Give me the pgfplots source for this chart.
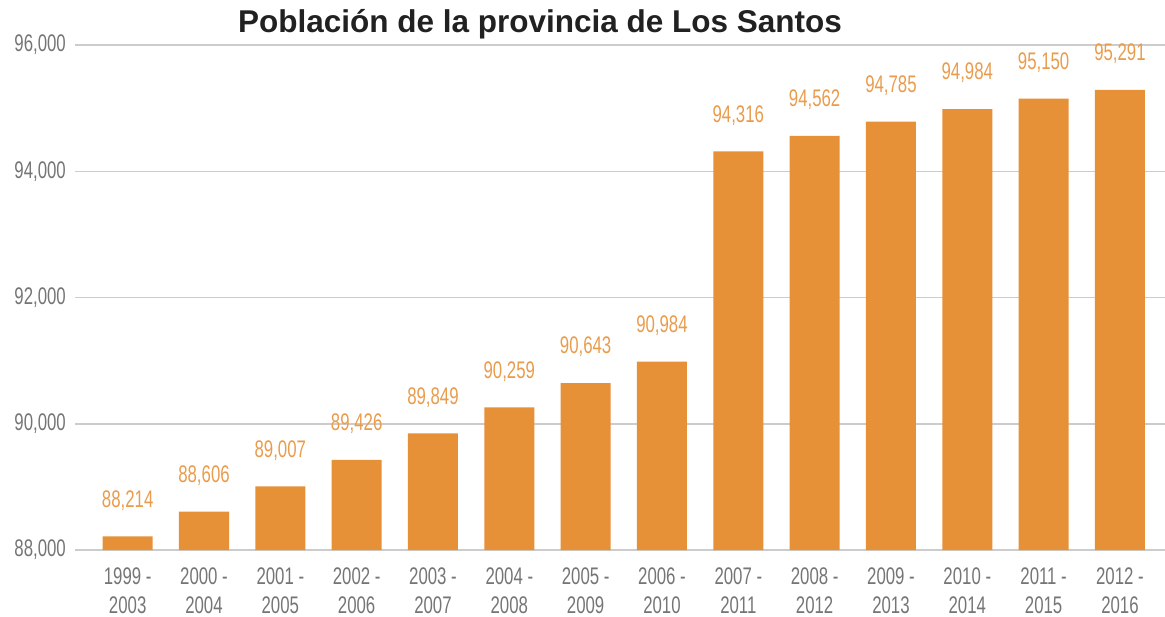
\documentclass[border=0pt]{standalone}
\usepackage{pgfplots}
\pgfplotsset{compat=1.18}
\usepackage{fontspec}
\setmainfont{Liberation Sans}
\newfontfamily\cond[FakeStretch=0.7]{Liberation Sans}
\definecolor{barc}{HTML}{E69138}
\definecolor{tickc}{HTML}{757575}
\definecolor{gridc}{HTML}{CCCCCC}
\begin{document}
\begin{tikzpicture}[x=1pt,y=1pt]
\begin{axis}[at={(75pt,-550pt)}, anchor=south west, width=1090pt, height=505pt, scale only axis,
 ymin=88000, ymax=96000, xmin=-0.69, xmax=13.59,
 scaled y ticks=false,
 ytick={88000,90000,92000,94000,96000},
 yticklabels={{88,000},{90,000},{92,000},{94,000},{96,000}},
 xtick={0,...,13},
 xticklabels={{1999 -\\2003},{2000 -\\2004},{2001 -\\2005},{2002 -\\2006},{2003 -\\2007},{2004 -\\2008},{2005 -\\2009},{2006 -\\2010},{2007 -\\2011},{2008 -\\2012},{2009 -\\2013},{2010 -\\2014},{2011 -\\2015},{2012 -\\2016}},
 ymajorgrids, grid style={gridc, line width=1.5pt},
 axis line style={draw=none}, major tick length=0,
 tick label style={font=\fontsize{24}{29}\selectfont\cond, text=tickc, inner sep=0pt},
 yticklabel style={anchor=east, xshift=-9pt},
 xticklabel style={align=center, anchor=north, yshift=-18pt},
 ybar, bar width=50pt,
 point meta=y,
 nodes near coords,
 nodes near coords style={font=\fontsize{24}{29}\selectfont\cond, text=barc!90, anchor=south, yshift=26pt, inner sep=0pt,
   /pgf/number format/1000 sep={,}, /pgf/number format/assume math mode=true},
]
\addplot[fill=barc, draw=none] coordinates {
(0,88214) (1,88606) (2,89007) (3,89426) (4,89849) (5,90259) (6,90643)
(7,90984) (8,94316) (9,94562) (10,94785) (11,94984) (12,95150) (13,95291)};
\end{axis}
\node[font=\fontsize{31.5}{36}\selectfont\bfseries, text=black!87, anchor=base] at (540pt,-33pt) {Población de la provincia de Los Santos};
\pgfresetboundingbox
\path[use as bounding box] (0pt,0pt) rectangle (1165pt,-617pt);
\end{tikzpicture}
\end{document}
